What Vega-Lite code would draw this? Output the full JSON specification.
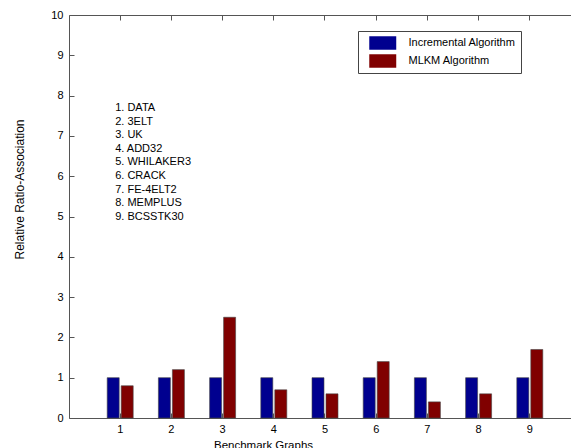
{
  "$schema": "https://vega.github.io/schema/vega-lite/v6.json",
  "width": 502,
  "height": 403,
  "autosize": "none",
  "padding": {"left": 69, "top": 15, "right": 0, "bottom": 30},
  "background": "white",
  "view": {"stroke": null},
  "config": {
    "font": "Liberation Sans",
    "axis": {
      "domainColor": "#555555",
      "tickColor": "#555555",
      "labelFont": "Liberation Sans",
      "labelFontSize": 11,
      "labelColor": "#000000",
      "titleFont": "Liberation Sans",
      "titleFontSize": 11,
      "titleFontWeight": "normal",
      "titleColor": "#000000",
      "grid": false
    }
  },
  "datasets": {
    "bars": [
      {"g": "1", "series": "Incremental Algorithm", "value": 1},
      {"g": "1", "series": "MLKM Algorithm", "value": 0.8},
      {"g": "2", "series": "Incremental Algorithm", "value": 1},
      {"g": "2", "series": "MLKM Algorithm", "value": 1.2},
      {"g": "3", "series": "Incremental Algorithm", "value": 1},
      {"g": "3", "series": "MLKM Algorithm", "value": 2.5},
      {"g": "4", "series": "Incremental Algorithm", "value": 1},
      {"g": "4", "series": "MLKM Algorithm", "value": 0.7},
      {"g": "5", "series": "Incremental Algorithm", "value": 1},
      {"g": "5", "series": "MLKM Algorithm", "value": 0.6},
      {"g": "6", "series": "Incremental Algorithm", "value": 1},
      {"g": "6", "series": "MLKM Algorithm", "value": 1.4},
      {"g": "7", "series": "Incremental Algorithm", "value": 1},
      {"g": "7", "series": "MLKM Algorithm", "value": 0.4},
      {"g": "8", "series": "Incremental Algorithm", "value": 1},
      {"g": "8", "series": "MLKM Algorithm", "value": 0.6},
      {"g": "9", "series": "Incremental Algorithm", "value": 1},
      {"g": "9", "series": "MLKM Algorithm", "value": 1.7}
    ],
    "notes": [
      {"g": "1", "value": 7.84, "label": "1. DATA\n2. 3ELT\n3. UK\n4. ADD32\n5. WHILAKER3\n6. CRACK\n7. FE-4ELT2\n8. MEMPLUS\n9. BCSSTK30"}
    ]
  },
  "layer": [
    {
      "data": {"name": "bars"},
      "mark": {"type": "bar", "stroke": "#444444", "strokeWidth": 0.6},
      "encoding": {
        "x": {
          "field": "g",
          "type": "nominal",
          "scale": {"domain": ["1","2","3","4","5","6","7","8","9"], "paddingInner": 0, "paddingOuter": 0.40234, "align": 0.62136},
          "axis": {
            "orient": "bottom",
            "labelAngle": 0,
            "title": "Benchmark Graphs",
            "tickSize": -5,
            "labelPadding": 10,
            "titleX": 194,
            "titleY": 21,
            "titleAlign": "center",
            "titleBaseline": "top",
            "titleFontSize": 11.5
          }
        },
        "xOffset": {
          "field": "series",
          "type": "nominal",
          "scale": {"paddingInner": 0.142857, "paddingOuter": 0.9}
        },
        "y": {
          "field": "value",
          "type": "quantitative",
          "scale": {"domain": [0, 10], "nice": false},
          "axis": {
            "values": [0,1,2,3,4,5,6,7,8,9,10],
            "title": "Relative Ratio-Association",
            "tickSize": -5,
            "labelPadding": 11,
            "titleX": -50,
            "titleY": 174,
            "titleAngle": -90,
            "titleAlign": "center",
            "titleBaseline": "middle",
            "titleFontSize": 12
          }
        },
        "color": {
          "field": "series",
          "type": "nominal",
          "scale": {"domain": ["Incremental Algorithm", "MLKM Algorithm"], "range": ["#00008F", "#800000"]},
          "legend": {
            "title": null,
            "orient": "none",
            "legendX": 289,
            "legendY": 16,
            "padding": 5,
            "symbolOffset": 12.75,
            "rowPadding": 4,
            "strokeColor": "#444444",
            "fillColor": "#ffffff",
            "symbolType": "M-2,-1H2V1H-2Z",
            "symbolSize": 182,
            "symbolStrokeWidth": 0,
            "symbolOpacity": 1,
            "labelOffset": 18.75,
            "labelFont": "Liberation Sans",
            "labelFontSize": 11,
            "labelColor": "#000000"
          }
        }
      }
    },
    {
      "data": {"name": "notes"},
      "mark": {"type": "text", "align": "left", "baseline": "top", "dx": -5, "lineBreak": "\n", "lineHeight": 13.6, "fontSize": 11, "font": "Liberation Sans", "color": "#000000"},
      "encoding": {
        "x": {
          "field": "g",
          "type": "nominal",
          "axis": {"orient": "top", "labels": false, "title": null, "tickSize": -5, "domain": true}
        },
        "y": {"field": "value", "type": "quantitative"},
        "text": {"field": "label"}
      }
    }
  ],
  "resolve": {"axis": {"x": "independent"}}
}
